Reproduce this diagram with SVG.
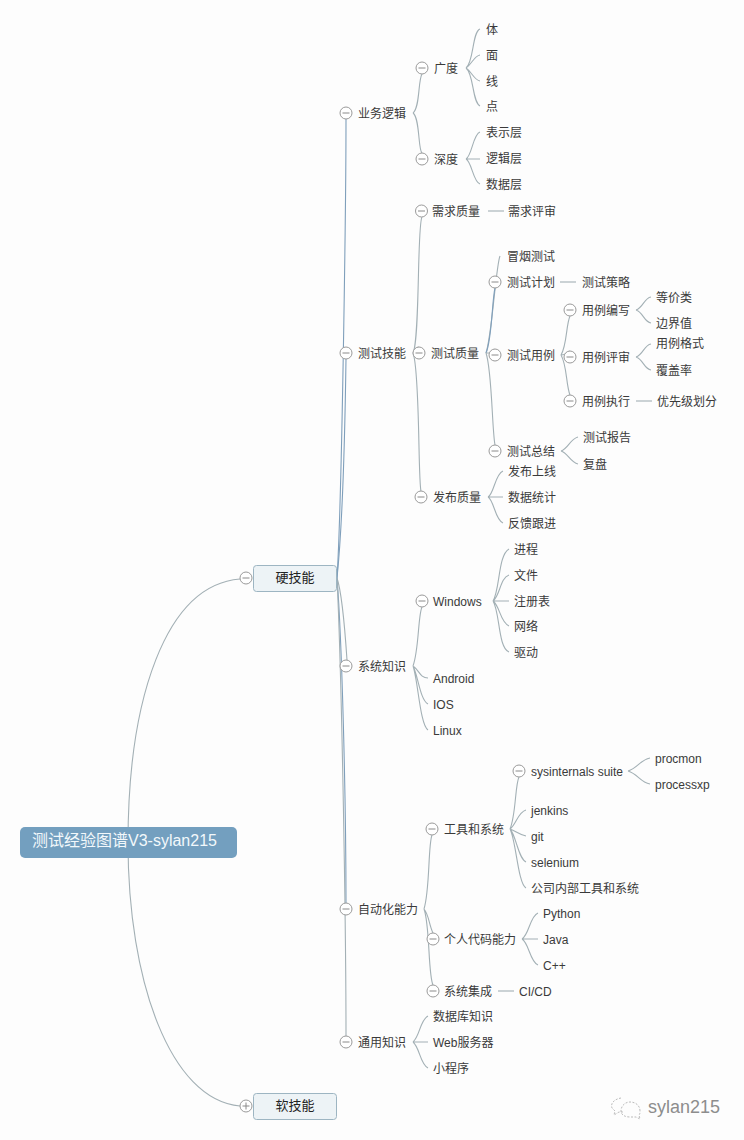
<svg xmlns="http://www.w3.org/2000/svg" width="744" height="1140" viewBox="0 0 744 1140">
<style>
text{font-family:"Liberation Sans","Noto Sans CJK SC",sans-serif;font-size:12px;fill:#3a3a3a;transform:translateY(1px)}
.c path{fill:none;stroke:#a3b0b5;stroke-width:1.1}
.c path.b{stroke:#7f9fbb}
.t circle{fill:#fff;stroke:#9a9a9a;stroke-width:1}
.t path{fill:none;stroke:#8a8a8a;stroke-width:1}
.box{fill:#edf3f6;stroke:#9db5c2;stroke-width:1}
.big{font-size:13px;fill:#222}
</style>
<defs>
<g id="m" class="t"><circle r="6"/><path d="M-3.5 0H3.5"/></g>
<g id="p" class="t"><circle r="6"/><path d="M-3.5 0H3.5M0-3.5V3.5"/></g>
</defs>
<rect width="744" height="1140" fill="#fdfdfd"/>
<g id="connectors" class="c">
<path d="M128 843C128 700 165 585 240 579"/>
<path d="M128 843C128 980 170 1100 240 1106"/>
<path class="b" d="M337 578C342 500 346 200 346 119"/>
<path class="b" d="M337 578C342 530 345 430 346 359"/>
<path d="M337 578C341 590 345 630 347 660"/>
<path class="b" d="M337 578C342 640 346 800 346 903"/>
<path d="M337 578C342 680 346 930 346 1036"/>
<path d="M413 113C420 108 418 80 422 74M413 113C420 118 418 150 422 153"/>
<path d="M466 68C474 62 472 32 480 29M466 68C472 64 474 56 480 55M466 68C472 72 474 80 480 81M466 68C474 74 472 102 480 106"/>
<path d="M466 159C472 156 473 134 480 132M466 159H480M466 159C472 162 473 182 480 184"/>
<path d="M413 353C420 340 417 225 422 217M413 353C418 345 417 348 419 347M413 353C420 370 418 480 421 491"/>
<path d="M488 211H504"/>
<path d="M486 353C492 335 496 265 500 256"/>
<path class="b" d="M486 353C492 340 492 300 495 288"/>
<path d="M486 353C490 353 491 354 495 349M486 353C492 370 492 430 495 445"/>
<path d="M560 282H576"/>
<path d="M561 355C567 345 566 325 570 316M561 355C565 355 566 354 570 351M561 355C567 365 566 385 570 395"/>
<path d="M636 310C643 308 644 298 651 297M636 310C643 312 644 322 651 323"/>
<path d="M636 357C643 355 644 345 651 344M636 357C643 359 644 369 651 370"/>
<path d="M636 401H652"/>
<path d="M561 451C568 449 570 439 578 437M561 451C568 453 570 462 578 464"/>
<path d="M488 497C494 494 495 474 503 471M488 497H503M488 497C494 500 495 520 503 523"/>
<path d="M413 666C419 650 418 615 422 607M413 666C419 670 420 678 428 678M413 666C418 675 420 700 428 704M413 666C418 680 420 725 428 730"/>
<path d="M493 601C500 590 498 555 509 549M493 601C500 596 500 578 509 575M493 601H509M493 601C500 606 500 622 509 626M493 601C500 612 498 648 509 652"/>
<path d="M424 909C430 890 428 845 432 835M424 909C429 915 429 925 433 933M424 909C430 925 428 975 433 985"/>
<path d="M510 829C516 815 515 785 519 777M510 829C516 825 518 812 526 810M510 829C516 831 518 834 526 836M510 829C516 835 518 858 526 862M510 829C516 840 518 884 526 888"/>
<path d="M628 771C638 768 640 760 650 758M628 771C638 774 640 782 650 784"/>
<path d="M522 939C529 935 530 916 538 913M522 939H538M522 939C529 943 530 962 538 965"/>
<path d="M498 991H514"/>
<path d="M413 1042C420 1036 420 1020 428 1016M413 1042H428M413 1042C420 1048 420 1064 428 1068"/>
</g>
<g id="root"><rect x="20" y="827" width="217" height="31" rx="5" fill="#739fbf"/><text x="32" y="845" style="font-size:16px;fill:#f2f8fb">测试经验图谱V3-sylan215</text></g>
<g id="hard"><rect class="box" x="253.500" y="565.500" width="83" height="26" rx="3"/><text class="big" x="295" y="581" text-anchor="middle">硬技能</text><use href="#m" x="246" y="578"/></g>
<g id="soft"><rect class="box" x="253.500" y="1093.500" width="83" height="26" rx="3"/><text class="big" x="295" y="1109" text-anchor="middle">软技能</text><use href="#p" x="246" y="1106"/></g>
<g id="n-biz"><use href="#m" x="346" y="113"/><text x="358" y="117">业务逻辑</text></g>
<g id="n-test"><use href="#m" x="346" y="353"/><text x="358" y="357">测试技能</text></g>
<g id="n-sys"><use href="#m" x="346" y="666"/><text x="358" y="670">系统知识</text></g>
<g id="n-auto"><use href="#m" x="346" y="909"/><text x="358" y="913">自动化能力</text></g>
<g id="n-gen"><use href="#m" x="346" y="1042"/><text x="358" y="1046">通用知识</text></g>
<g id="n-wide"><use href="#m" x="422" y="68"/><text x="434" y="72">广度</text></g>
<g id="n-deep"><use href="#m" x="422" y="159"/><text x="434" y="163">深度</text></g>
<g id="n1"><text x="486" y="33">体</text></g>
<g id="n2"><text x="486" y="59">面</text></g>
<g id="n3"><text x="486" y="85">线</text></g>
<g id="n4"><text x="486" y="110">点</text></g>
<g id="n5"><text x="486" y="136">表示层</text></g>
<g id="n6"><text x="486" y="162">逻辑层</text></g>
<g id="n7"><text x="486" y="188">数据层</text></g>
<g id="n-req"><use href="#m" x="421.500" y="211"/><text x="432" y="215">需求质量</text></g>
<g id="n8"><text x="508" y="215">需求评审</text></g>
<g id="n-qual"><use href="#m" x="419" y="353"/><text x="431" y="357">测试质量</text></g>
<g id="n-rel"><use href="#m" x="421" y="497"/><text x="433" y="501">发布质量</text></g>
<g id="n9"><text x="507" y="260">冒烟测试</text></g>
<g id="n-plan"><use href="#m" x="495" y="282"/><text x="507" y="286">测试计划</text></g>
<g id="n10"><text x="582" y="286">测试策略</text></g>
<g id="n-case"><use href="#m" x="495" y="355"/><text x="507" y="359">测试用例</text></g>
<g id="n-sum"><use href="#m" x="495" y="451"/><text x="507" y="455">测试总结</text></g>
<g id="n-w"><use href="#m" x="570" y="310"/><text x="582" y="314">用例编写</text></g>
<g id="n-r"><use href="#m" x="570" y="357"/><text x="582" y="361">用例评审</text></g>
<g id="n-e"><use href="#m" x="570" y="401"/><text x="582" y="405">用例执行</text></g>
<g id="n11"><text x="656" y="301">等价类</text></g>
<g id="n12"><text x="656" y="327">边界值</text></g>
<g id="n13"><text x="656" y="347">用例格式</text></g>
<g id="n14"><text x="656" y="374">覆盖率</text></g>
<g id="n15"><text x="657" y="405">优先级划分</text></g>
<g id="n16"><text x="583" y="441">测试报告</text></g>
<g id="n17"><text x="583" y="468">复盘</text></g>
<g id="n18"><text x="508" y="475">发布上线</text></g>
<g id="n19"><text x="508" y="501">数据统计</text></g>
<g id="n20"><text x="508" y="527">反馈跟进</text></g>
<g id="n-win"><use href="#m" x="422" y="601"/><text x="433" y="605">Windows</text></g>
<g id="n21"><text x="514" y="553">进程</text></g>
<g id="n22"><text x="514" y="579">文件</text></g>
<g id="n23"><text x="514" y="605">注册表</text></g>
<g id="n24"><text x="514" y="630">网络</text></g>
<g id="n25"><text x="514" y="656">驱动</text></g>
<g id="n26"><text x="433" y="682">Android</text></g>
<g id="n27"><text x="433" y="708">IOS</text></g>
<g id="n28"><text x="433" y="734">Linux</text></g>
<g id="n-tool"><use href="#m" x="432" y="829"/><text x="444" y="833">工具和系统</text></g>
<g id="n-code"><use href="#m" x="433" y="939"/><text x="444" y="943">个人代码能力</text></g>
<g id="n-ci"><use href="#m" x="433" y="991"/><text x="444" y="995">系统集成</text></g>
<g id="n-sysint"><use href="#m" x="519" y="771"/><text x="531" y="775">sysinternals suite</text></g>
<g id="n29"><text x="655" y="762">procmon</text></g>
<g id="n30"><text x="655" y="788">processxp</text></g>
<g id="n31"><text x="531" y="814">jenkins</text></g>
<g id="n32"><text x="531" y="840">git</text></g>
<g id="n33"><text x="531" y="866">selenium</text></g>
<g id="n34"><text x="531" y="892">公司内部工具和系统</text></g>
<g id="n35"><text x="543" y="917">Python</text></g>
<g id="n36"><text x="543" y="943">Java</text></g>
<g id="n37"><text x="543" y="969">C++</text></g>
<g id="n38"><text x="519" y="995">CI/CD</text></g>
<g id="n39"><text x="433" y="1020">数据库知识</text></g>
<g id="n40"><text x="433" y="1046">Web服务器</text></g>
<g id="n41"><text x="433" y="1072">小程序</text></g>
<g id="watermark"><path d="M621 1098C615 1099 610 1103 612 1108L615 1111L614 1115L619 1112C622 1112 622 1112 623 1112M640 1111C640 1105 635 1102 630 1102C625 1102 621 1106 621 1111C621 1115 625 1117 630 1117L636 1117L640 1119L639 1115C640 1114 640 1113 640 1111Z" fill="none" stroke="#aaa" stroke-width="0.800" stroke-dasharray="2 1.500"/><text x="648" y="1111.500" style="font-size:18px;fill:#8d8d8d">sylan215</text></g>
</svg>
